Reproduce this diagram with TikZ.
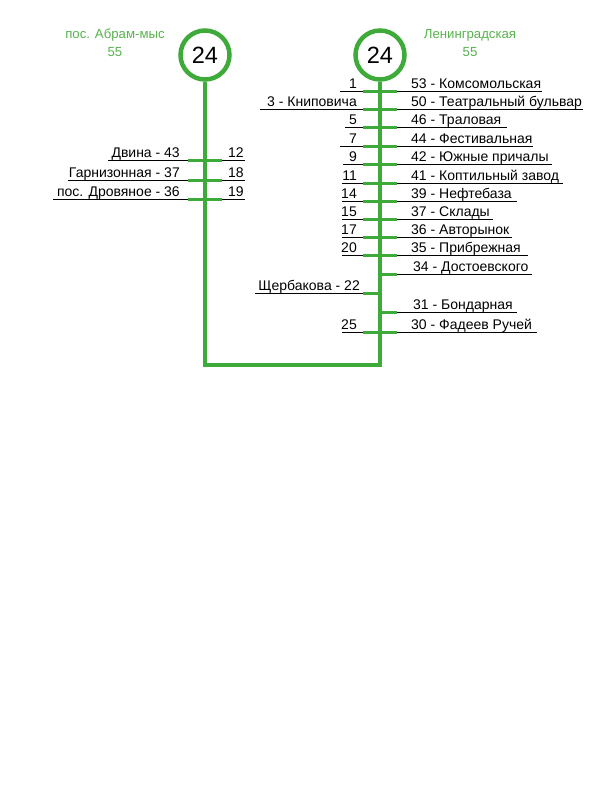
\documentclass[tikz,border=0pt]{standalone}
\usepackage{fontspec}
\setmainfont{Liberation Sans}
\usetikzlibrary{positioning}
\definecolor{RouteGreen}{RGB}{62, 170, 58}
\definecolor{TitleGreen}{RGB}{88, 178, 78}

\tikzset{
  route/.style={RouteGreen, line width=3.6pt},
  stoptick/.style={RouteGreen, line width=3pt},
  underline/.style={black, line width=0.8pt},
  stoplabel/.style={inner sep=0pt, font=\fontsize{14}{16}\selectfont},
  terminus/.style={circle, draw=RouteGreen, line width=4.5pt, fill=white,
    minimum size=49pt, inner sep=0pt, font=\fontsize{23.5}{25}\selectfont},
  termname/.style={TitleGreen, align=center, font=\fontsize{13.2}{18}\selectfont}
}

\begin{document}
\begin{tikzpicture}[x=1pt,y=-1pt]
  \path[use as bounding box] (0,0) rectangle (591,788);
  \fill[white] (0,0) rectangle (591,788);

  % termini
  \node[terminus] (termAbram) at (205,55) {24};
  \node[terminus] (termLenin) at (380,55) {24};
  \node[termname] (nameAbram) at (115,43) {пос. Абрам-мыс\\55};
  \node[termname] (nameLenin) at (470,43) {Ленинградская\\55};

  % left branch
  \foreach \y/\ltext/\lx/\rtext/\rx [count=\i] in {
      160/Двина - 43/108/12/245,
      180/Гарнизонная - 37/68/18/245,
      199/пос. Дровяное - 36/53/19/245}{
    \draw[underline] (\lx,\y) -- (\rx,\y);
    \draw[stoptick] (188,\y) -- (222,\y);
    \node[stoplabel, anchor=base east] (al\i) at (180,\y-2.5) {\ltext};
    \node[stoplabel, anchor=base west] (ar\i) at (228,\y-2.5) {\rtext};
  }

  % right branch, both sides
  \foreach \y/\ltext/\lx/\rtext/\rx [count=\i] in {
      91/1/340/53 - Комсомольская/542,
      109/3 - Книповича/260/50 - Театральный бульвар/583,
      127/5/345/46 - Траловая/507,
      146/7/340/44 - Фестивальная/533,
      164/9/343/42 - Южные причалы/552,
      183/11/342/41 - Коптильный завод/563,
      201/14/342/39 - Нефтебаза/517,
      219/15/342/37 - Склады/493,
      237/17/342/36 - Авторынок/512,
      255/20/342/35 - Прибрежная/528,
      332/25/342/30 - Фадеев Ручей/537}{
    \draw[underline] (\lx,\y) -- (\rx,\y);
    \draw[stoptick] (363,\y) -- (397,\y);
    \node[stoplabel, anchor=base east] (bl\i) at (357,\y-2.5) {\ltext};
    \node[stoplabel, anchor=base west] (br\i) at (411,\y-2.5) {\rtext};
  }

  % right branch, one side only
  \foreach \y/\rtext/\rx [count=\i] in {
      274/34 - Достоевского/532,
      312/31 - Бондарная/517}{
    \draw[underline] (380,\y) -- (\rx,\y);
    \draw[stoptick] (380,\y) -- (397,\y);
    \node[stoplabel, anchor=base west] (cr\i) at (413,\y-2.5) {\rtext};
  }
  \draw[underline] (255,293) -- (380,293);
  \draw[stoptick] (363,293) -- (380,293);
  \node[stoplabel, anchor=base east] (cl1) at (360,290.5) {Щербакова - 22};

  % route line
  \coordinate (bend) at (205,365);
  \draw[route] (termAbram) -- (bend) -| (termLenin);
\end{tikzpicture}
\end{document}
